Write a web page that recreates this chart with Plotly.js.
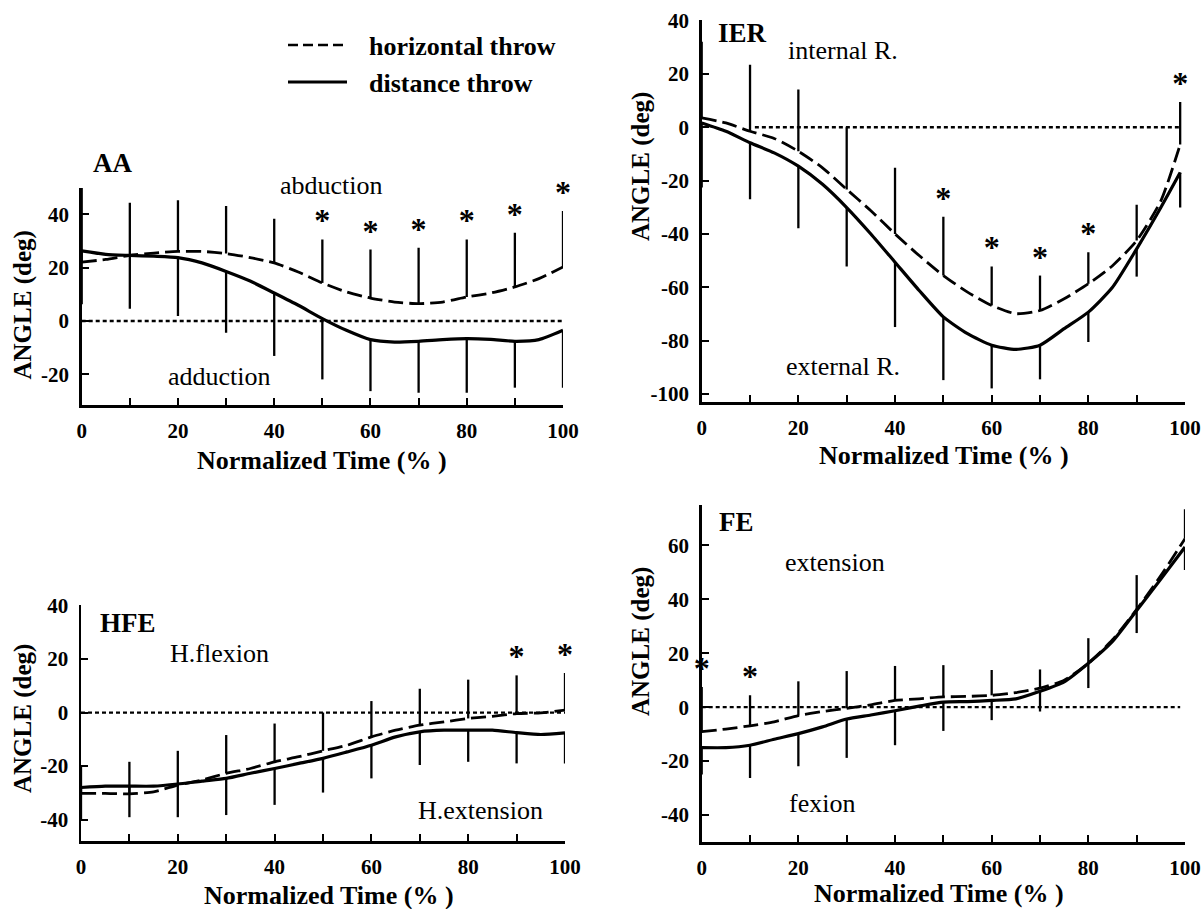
<!DOCTYPE html>
<html>
<head>
<meta charset="utf-8">
<script src="https://cdn.plot.ly/plotly-3.0.1.min.js"></script>
<style>html,body{margin:0;padding:0;background:#fff;}#chart{width:1204px;height:909px;}</style>
</head>
<body>
<div id="chart"></div>
<script>
// ---------- DATA ----------
// AA (abduction / adduction)
const aaX = [0,5,10,15,20,25,30,35,40,45,50,55,60,65,70,75,80,85,90,95,100];
const aaHoriz = [22.1,23.1,24.6,25.5,26.1,26.1,25.3,23.8,21.8,18.4,14.3,10.9,8.6,7.1,6.5,7.1,9.0,10.5,12.8,15.9,20.3];
const aaDist = [26.3,25.0,24.6,24.3,23.8,21.8,18.6,15.0,10.5,5.9,0.9,-3.5,-7.0,-7.9,-7.6,-7.0,-6.6,-6.9,-7.6,-7.0,-3.5];
const aaSdX = [0,10,20,30,40,50,60,70,80,90,100];
const aaHorizSD = [27.8,19.8,19.2,17.8,16.6,16.3,18.2,21.0,21.6,20.3,21.0];
const aaDistSD = [20.0,20.0,21.9,23.0,23.6,22.8,19.3,19.3,20.3,17.4,21.5];
const aaStarX = [50,60,70,80,90,100];
const aaYTicks = [-20,0,20,40];

// IER (internal / external rotation)
const ierX = [0,5,10,15,20,25,30,35,40,45,50,55,60,65,70,75,80,85,90,95,99];
const ierHoriz = [3.5,1.6,-1.5,-4.2,-9.0,-15.2,-23.3,-31.3,-40.0,-48.1,-55.6,-61.8,-66.8,-69.9,-68.7,-64.3,-58.7,-51.9,-42.5,-27.6,-6.5];
const ierDist = [1.6,-1.5,-5.8,-9.6,-14.6,-21.4,-30.1,-40.0,-50.6,-61.2,-71.1,-77.4,-81.7,-83.3,-81.7,-75.5,-69.3,-60.0,-45.6,-30.1,-17.0];
const ierSdX = [0,10,20,30,40,50,60,70,80,90,99];
const ierHorizSD = [28.5,24.9,23.1,23.3,24.8,22.0,14.6,13.1,11.8,13.4,16.0];
const ierDistSD = [24.2,21.2,23.3,22.1,24.3,23.7,16.2,12.8,11.2,10.4,13.1];
const ierStarX = [50,60,70,80,99];
const ierYTicks = [-100,-80,-60,-40,-20,0,20,40];

// HFE (horizontal flexion / extension)
const hfeX = [0,5,10,15,20,25,30,35,40,45,50,55,60,65,70,75,80,85,90,95,100];
const hfeHoriz = [-30.2,-30.2,-30.4,-29.6,-27.1,-25.2,-22.7,-20.9,-18.4,-16.5,-14.3,-12.2,-9.1,-6.6,-4.7,-3.5,-2.2,-1.4,-0.4,-0.1,0.9];
const hfeDist = [-28.0,-27.5,-27.5,-27.5,-26.7,-25.6,-24.6,-22.7,-20.9,-19.0,-17.1,-14.7,-12.2,-9.1,-7.2,-6.6,-6.6,-6.6,-7.5,-8.2,-7.6];
const hfeSdX = [0,10,20,30,40,50,60,70,80,90,100];
const hfeHorizSD = [10.2,12.0,12.8,14.3,14.3,14.3,13.4,13.6,14.5,14.3,13.9];
const hfeDistSD = [12.0,11.6,12.4,13.7,13.6,12.8,12.4,12.4,11.8,11.5,11.4];
const hfeStarX = [90,100];
const hfeYTicks = [-40,-20,0,20,40];

// FE (flexion / extension)
const feX = [0,5,10,15,20,25,30,35,40,45,50,55,60,65,70,75,80,85,90,95,100];
const feHoriz = [-9.1,-8.1,-6.9,-5.4,-3.1,-1.6,-0.4,0.9,2.5,3.1,3.8,4.0,4.4,5.4,7.1,10.0,16.3,25.0,36.3,48.8,62.5];
const feDist = [-15.0,-15.0,-14.1,-11.9,-9.8,-7.3,-4.4,-2.9,-1.3,0.4,1.9,2.1,2.5,3.1,5.9,9.4,16.3,24.4,35.9,47.5,59.4];
const feSdX = [0,10,20,30,40,50,60,70,80,90,100];
const feHorizSD = [16.6,11.3,12.7,13.8,12.8,11.8,9.4,6.9,9.3,12.7,10.9];
const feDistSD = [10.0,12.2,12.1,14.4,12.8,10.7,7.3,7.5,9.2,8.4,8.5];
const feStarX = [0,10];
const feYTicks = [-40,-20,0,20,40,60];

const xTicks = [0,20,40,60,80,100];
const seriesNames = ['horizontal throw', 'distance throw'];
const xTitle = 'Normalized Time (% )';
const yTitle = 'ANGLE (deg)';

// ---------- BUILD ----------
const FONT = '"Liberation Serif", "Times New Roman", Times, serif';
const W = 1204, H = 909;
const px = v => v / W;
const py = v => 1 - v / H;

const panels = [
  {id:'', x:aaX, h:aaHoriz, d:aaDist, sdX:aaSdX, hSD:aaHorizSD, dSD:aaDistSD, stars:aaStarX, yt:aaYTicks,
   zero:[0,100], xdom:[81.7,563], ydom:[405,187.7], yr:[-31.5,50]},
  {id:'2', x:ierX, h:ierHoriz, d:ierDist, sdX:ierSdX, hSD:ierHorizSD, dSD:ierDistSD, stars:ierStarX, yt:ierYTicks,
   zero:[11,99], xdom:[701.7,1185], ydom:[402,20], yr:[-103,40.2]},
  {id:'3', x:hfeX, h:hfeHoriz, d:hfeDist, sdX:hfeSdX, hSD:hfeHorizSD, dSD:hfeDistSD, stars:hfeStarX, yt:hfeYTicks,
   zero:[0,100], xdom:[81,565], ydom:[841,605], yr:[-48,40.2]},
  {id:'4', x:feX, h:feHoriz, d:feDist, sdX:feSdX, hSD:feHorizSD, dSD:feDistSD, stars:feStarX, yt:feYTicks,
   zero:[0,99], xdom:[701.7,1185], ydom:[842,505], yr:[-50,75]}
];

const traces = [];
const layout = {
  width: W, height: H, margin:{l:0,r:0,t:0,b:0}, autosize:false,
  paper_bgcolor:'#fff', plot_bgcolor:'rgba(0,0,0,0)', showlegend:false,
  font:{family:FONT, color:'#000'}, annotations:[], shapes:[]
};

const tickFont = {family:FONT, size:21, color:'#000', weight:700};

panels.forEach(p => {
  const xa = 'x' + p.id, ya = 'y' + p.id;
  const lookup = (arr, xv) => arr[p.x.indexOf(xv)];
  traces.push({x:p.zero, y:[0,0], xaxis:xa, yaxis:ya, mode:'lines', hoverinfo:'skip',
    line:{color:'#000', width:2.3, dash:'4px,3px'}});
  traces.push({x:p.x, y:p.h, xaxis:xa, yaxis:ya, mode:'lines', name:seriesNames[0],
    line:{color:'#000', width:2.8, dash:'15px,6px', shape:'spline', smoothing:0.6}});
  traces.push({x:p.x, y:p.d, xaxis:xa, yaxis:ya, mode:'lines', name:seriesNames[1],
    line:{color:'#000', width:3.2, shape:'spline', smoothing:0.6}});
  traces.push({x:p.sdX, y:p.sdX.map(v => lookup(p.h, v)), xaxis:xa, yaxis:ya, mode:'markers', hoverinfo:'skip',
    marker:{size:1, color:'rgba(0,0,0,0)'},
    error_y:{type:'data', symmetric:false, array:p.hSD, arrayminus:p.hSD.map(()=>0), width:0, thickness:2.3, color:'#000'}});
  traces.push({x:p.sdX, y:p.sdX.map(v => lookup(p.d, v)), xaxis:xa, yaxis:ya, mode:'markers', hoverinfo:'skip',
    marker:{size:1, color:'rgba(0,0,0,0)'},
    error_y:{type:'data', symmetric:false, array:p.dSD.map(()=>0), arrayminus:p.dSD, width:0, thickness:2.3, color:'#000'}});
  traces.push({x:p.stars, y:p.stars.map(v => lookup(p.h, v) + p.hSD[p.sdX.indexOf(v)]),
    xaxis:xa, yaxis:ya, mode:'text', text:p.stars.map(()=>'*'), textposition:'top center',
    textfont:{family:FONT, size:32, color:'#000', weight:700}, cliponaxis:false, hoverinfo:'skip'});

  layout['xaxis' + p.id] = {
    domain:[px(p.xdom[0]), px(p.xdom[1])], anchor:ya, range:[0,100],
    showline:true, linecolor:'#000', linewidth:2.5, showgrid:false, zeroline:false,
    ticks:'inside', ticklen:7, tickwidth:2, tickcolor:'#000',
    tickmode:'array', tickvals:xTicks, ticktext:xTicks.map(String),
    minor:{dtick:10, tick0:0, ticks:'inside', ticklen:7, tickwidth:2, tickcolor:'#000', showgrid:false},
    tickfont:tickFont, ticklabelstandoff:5
  };
  layout['yaxis' + p.id] = {
    domain:[py(p.ydom[0]), py(p.ydom[1])], anchor:xa, range:p.yr,
    showline:true, linecolor:'#000', linewidth:2.5, showgrid:false, zeroline:false,
    ticks:'inside', ticklen:7, tickwidth:2, tickcolor:'#000',
    tickmode:'array', tickvals:p.yt, ticktext:p.yt.map(String),
    tickfont:tickFont, ticklabelstandoff:6
  };
});

const A = (text, x, y, size, bold, extra) => Object.assign({
  text:text, x:px(x), y:py(y), xref:'paper', yref:'paper', showarrow:false,
  xanchor:'center', yanchor:'middle',
  font:{family:FONT, size:size, color:'#000', weight: bold ? 700 : 400}
}, extra || {});

const ann = layout.annotations;
ann.push(A('AA', 112, 163, 27, true));
ann.push(A('IER', 742, 33, 27, true));
ann.push(A('HFE', 128, 623, 27, true));
ann.push(A('FE', 736, 522, 27, true));
ann.push(A('abduction', 331, 185, 26, false));
ann.push(A('adduction', 219, 377, 26, false));
ann.push(A('internal R.', 843, 50, 26, false));
ann.push(A('external R.', 843, 367, 26, false));
ann.push(A('H.flexion', 219, 653, 26, false));
ann.push(A('H.extension', 480, 810, 26, false));
ann.push(A('extension', 835, 562, 26, false));
ann.push(A('fexion', 822, 803, 26, false));
ann.push(A(xTitle, 322, 461, 26, true));
ann.push(A(xTitle, 944, 455, 26, true));
ann.push(A(xTitle, 329, 895, 26, true));
ann.push(A(xTitle, 939, 893, 26, true));
ann.push(A(yTitle, 22.5, 305, 25, true, {textangle:-90}));
ann.push(A(yTitle, 641, 167, 25, true, {textangle:-90}));
ann.push(A(yTitle, 23, 719, 25, true, {textangle:-90}));
ann.push(A(yTitle, 641, 642, 25, true, {textangle:-90}));
layout.shapes.push({type:'line', xref:'paper', yref:'paper', x0:px(288), x1:px(347), y0:py(45), y1:py(45),
  line:{color:'#000', width:2.6, dash:'10px,5px'}});
layout.shapes.push({type:'line', xref:'paper', yref:'paper', x0:px(288), x1:px(347), y0:py(82), y1:py(82),
  line:{color:'#000', width:3}});
ann.push(A(seriesNames[0], 367, 46, 26, true, {xanchor:'left'}));
ann.push(A(seriesNames[1], 367, 83, 26, true, {xanchor:'left'}));

Plotly.newPlot('chart', traces, layout, {staticPlot:true, displayModeBar:false});
</script>
</body>
</html>
